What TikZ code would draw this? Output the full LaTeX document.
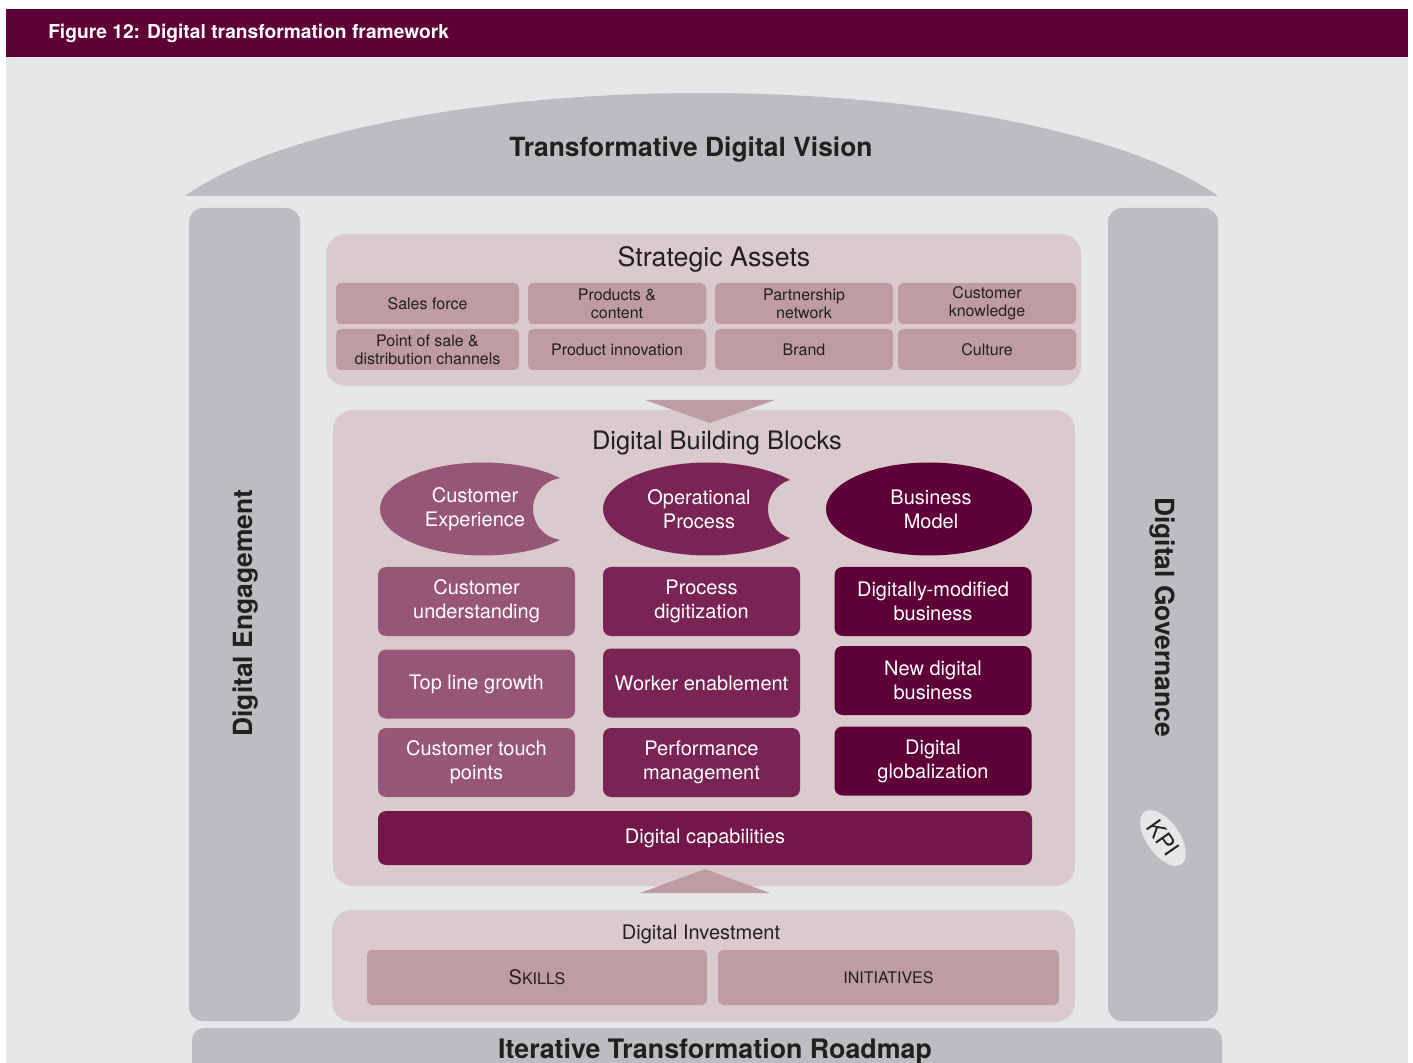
\documentclass[tikz,border=0pt]{standalone}
\usepackage{fontspec}
\setmainfont{TeX Gyre Heros}
\usetikzlibrary{shapes.geometric, positioning}

\definecolor{wine}{RGB}{94,0,54}
\definecolor{canvasgrey}{RGB}{230,231,233}
\definecolor{pillargrey}{RGB}{188,189,192}
\definecolor{panelpink}{RGB}{219,202,205}
\definecolor{assetpink}{RGB}{189,156,163}
\definecolor{custcol}{RGB}{151,86,119}
\definecolor{opcol}{RGB}{122,36,85}
\definecolor{bizcol}{RGB}{94,0,55}
\definecolor{capcol}{RGB}{115,23,75}
\definecolor{ink}{RGB}{35,31,32}

\newcommand{\fsz}[2]{\fontsize{#1}{#2}\selectfont}

\tikzset{
  pillar/.style={fill=pillargrey, rounded corners=7pt, inner sep=0pt, minimum height=406.5pt},
  bigtitle/.style={font=\bfseries\fsz{13.2}{16}, text=ink},
  panel/.style={fill=panelpink, rounded corners=10pt, inner sep=0pt},
  asset/.style={fill=assetpink, rounded corners=2.5pt, inner sep=0pt, minimum width=89pt,
    minimum height=20.5pt, align=center, text=ink, font=\fsz{8}{9}},
  block/.style={rounded corners=4pt, inner sep=0pt, minimum width=98.5pt, minimum height=34.5pt,
    align=center, text=white, font=\fsz{10}{12}},
  blob/.style={ellipse, inner sep=0pt, minimum height=46.5pt},
  blobtext/.style={align=center, text=white, font=\fsz{10}{12}},
  invest/.style={fill=assetpink, rounded corners=2.5pt, inner sep=0pt, minimum width=170pt,
    minimum height=27.5pt, text=ink}
}

\begin{document}
\begin{tikzpicture}[x=0.5pt, y=-0.5pt]
\useasboundingbox (0,0) rectangle (1413,1063);
\clip (0,0) rectangle (1413,1063);
\fill[white] (0,0) rectangle (1413,1063);

% banner and canvas
\node[fill=wine, inner sep=0pt, minimum width=701pt, minimum height=24pt] (banner) at (707,33) {};
\node[anchor=west, text=white, font=\bfseries\fsz{9.6}{11}] (caption)
  at ([xshift=17.8pt]banner.west) {Figure 12: Digital transformation framework};
\fill[canvasgrey] (6,57) rectangle (1408,1063);

% vision dome
\fill[pillargrey] (185,196) .. controls (272,134) and (476,93) .. (701.5,93)
  .. controls (927,93) and (1131,134) .. (1218,196) -- cycle;
\node[bigtitle] (vision) at (691,150) {Transformative Digital Vision};

% side pillars
\node[pillar, minimum width=55.5pt] (engage) at (244.5,614.5) {};
\node[bigtitle, rotate=90] (engagetext) at (246,613) {Digital Engagement};
\node[pillar, minimum width=55pt] (govern) at (1163,614.5) {};
\node[bigtitle, rotate=-90] (governtext) at (1162,617) {Digital Governance};
\node[ellipse, fill=canvasgrey, inner sep=0pt, minimum width=32pt, minimum height=16.5pt,
  rotate=-55, text=ink, font=\fsz{11.5}{13}] (kpi) at (1163,838) {KPI};

% roadmap
\node[fill=pillargrey, rounded corners=6pt, inner sep=0pt, minimum width=515pt,
  minimum height=32pt] (roadmap) at (707,1060) {};
\node[bigtitle, font=\bfseries\fsz{13.4}{16}] (roadmaptext) at (715,1051) {Iterative Transformation Roadmap};

% strategic assets
\node[panel, minimum width=377.5pt, minimum height=76pt] (assets) at (703.5,310) {};
\node[text=ink, font=\fsz{13.4}{16}] (assetstitle) at (714,259) {Strategic Assets};
\node[asset, minimum width=91.5pt] (sales) at (427.5,303.5) {Sales force};
\node[asset] (products) at (617,303.5) {Products \&\\content};
\node[asset] (partner) at (804,303.5) {Partnership\\network};
\node[asset] (knowledge) at (987,303.5) {Customer\\knowledge};
\node[asset, minimum width=91.5pt] (pos) at (427.5,349.5) {Point of sale \&\\distribution channels};
\node[asset] (innovation) at (617,349.5) {Product innovation};
\node[asset] (brand) at (804,349.5) {Brand};
\node[asset] (culture) at (987,349.5) {Culture};

% building blocks
\node[panel, minimum width=371pt, minimum height=238pt] (blocks) at (704,648) {};
\fill[assetpink] (645,400) -- (775,400) -- (710,423) -- cycle;
\node[text=ink, font=\fsz{12.7}{15}] (blockstitle) at (717,443) {Digital Building Blocks};

\begin{scope}[even odd rule]
  \clip (370,455) rectangle (600,565) (564,509) circle[radius=31];
  \node[blob, fill=custcol, minimum width=103pt] (custexp) at (483,509) {};
\end{scope}
\begin{scope}[even odd rule]
  \clip (595,455) rectangle (830,565) (798,509) circle[radius=30];
  \node[blob, fill=opcol, minimum width=105pt] (opproc) at (708,509) {};
\end{scope}
\node[blob, fill=bizcol, minimum width=103pt] (bizmodel) at (929,509) {};
\node[blobtext] (custexptext) at ([xshift=-4pt]custexp.center) {Customer\\Experience};
\node[blobtext] (opproctext) at ([xshift=-4.5pt]opproc.center) {Operational\\Process};
\node[blobtext] (bizmodeltext) at ([xshift=1pt]bizmodel.center) {Business\\Model};

\node[block, fill=custcol] (understand) at (476.5,601.5) {Customer\\understanding};
\node[block, fill=custcol] (topline) at (476.5,684) {Top line growth};
\node[block, fill=custcol] (touch) at (476.5,762.5) {Customer touch\\points};
\node[block, fill=opcol] (digitize) at (701.5,601.5) {Process\\digitization};
\node[block, fill=opcol] (worker) at (701.5,683) {Worker enablement};
\node[block, fill=opcol] (perform) at (701.5,762.5) {Performance\\management};
\node[block, fill=bizcol] (modified) at (933,601.5) {Digitally-modified\\business};
\node[block, fill=bizcol] (newbiz) at (933,680.5) {New digital\\business};
\node[block, fill=bizcol] (global) at (933,761) {Digital\\globalization};
\node[block, fill=capcol, minimum width=327pt, minimum height=27pt] (capab) at (705,838) {Digital capabilities};

% investment
\node[panel, minimum width=371.5pt, minimum height=56pt] (investment) at (703.5,966) {};
\fill[assetpink] (640,893) -- (770,893) -- (705,869) -- cycle;
\node[text=ink, font=\fsz{10}{12}] (investtitle) at (701,934) {Digital Investment};
\node[invest] (skills) at (537,977.5) {{\fsz{10}{12}S}{\fsz{8}{10}KILLS}};
\node[invest, minimum width=170.5pt] (initiatives) at (888.5,977.5) {{\fsz{8}{10}INITIATIVES}};
\end{tikzpicture}
\end{document}
